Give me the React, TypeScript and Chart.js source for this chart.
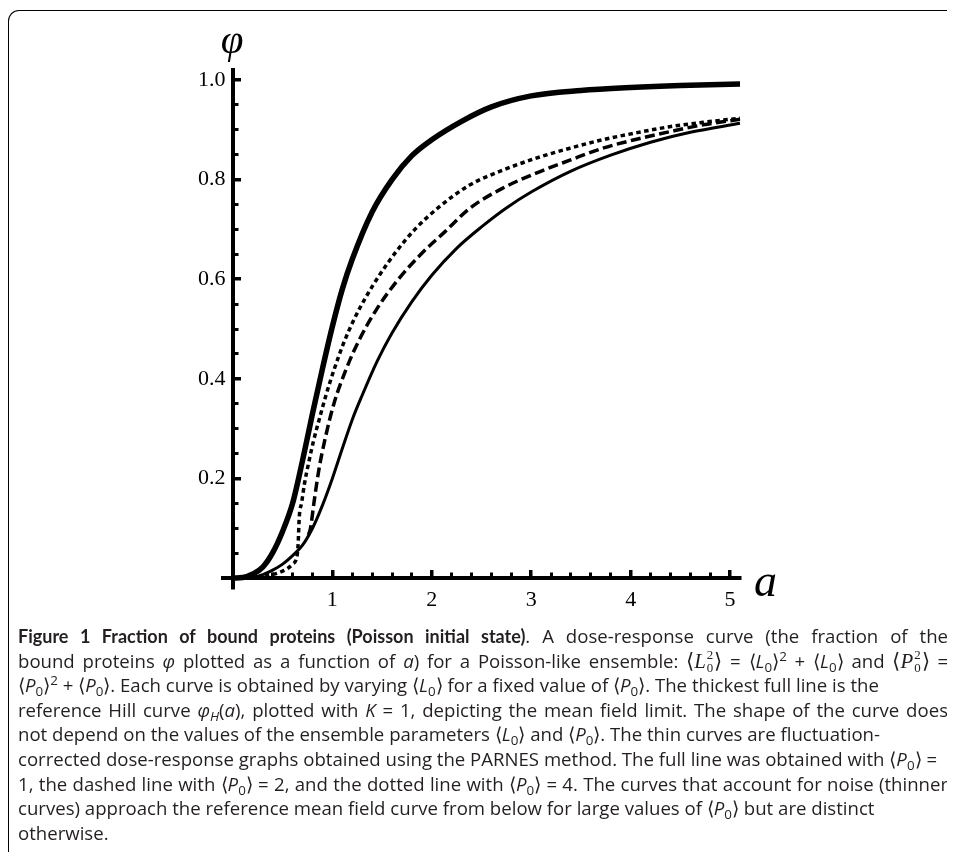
import React, { useEffect, useRef } from "react";
import { Chart, registerables } from "chart.js";

Chart.register(...registerables);

// ---- data ----
// thickest full line: reference Hill curve
const HILL_A = [0, 0.1, 0.2, 0.3, 0.4, 0.5, 0.6, 0.7, 0.8, 0.9, 1.0, 1.1, 1.2, 1.4, 1.6, 1.8, 2.0, 2.3, 2.6, 3.0, 3.5, 4.0, 4.5, 5.1];
const HILL_PHI = [0, 0.001, 0.008, 0.022, 0.051, 0.094, 0.15, 0.236, 0.33, 0.42, 0.505, 0.58, 0.64, 0.735, 0.8, 0.848, 0.88, 0.917, 0.946, 0.968, 0.979, 0.985, 0.989, 0.992];

// thin full line: <P0> = 1
const FULL_A = [0, 0.1, 0.2, 0.3, 0.4, 0.5, 0.6, 0.7, 0.8, 0.9, 1.0, 1.1, 1.2, 1.3, 1.45, 1.6, 1.8, 2.0, 2.25, 2.5, 2.75, 3.0, 3.4, 3.8, 4.2, 4.6, 5.1];
const FULL_PHI = [0, 0.0005, 0.002, 0.007, 0.016, 0.028, 0.045, 0.066, 0.1, 0.146, 0.2, 0.26, 0.318, 0.367, 0.435, 0.492, 0.555, 0.608, 0.662, 0.705, 0.743, 0.775, 0.817, 0.849, 0.875, 0.895, 0.913];

// dashed line: <P0> = 2
const DASHED_A = [0.76, 0.78, 0.814, 0.864, 0.932, 1.017, 1.136, 1.27, 1.44, 1.66, 1.9, 2.136, 2.38, 2.716, 3.05, 3.39, 3.72, 4.06, 4.39, 4.73, 5.1];
const DASHED_PHI = [0.087, 0.1, 0.15, 0.217, 0.284, 0.351, 0.418, 0.478, 0.538, 0.599, 0.652, 0.696, 0.742, 0.783, 0.813, 0.839, 0.863, 0.881, 0.896, 0.91, 0.921];

// dotted line: <P0> = 4
const DOTTED_A = [0, 0.2, 0.35, 0.5, 0.6, 0.645, 0.655, 0.668, 0.69, 0.72, 0.76, 0.81, 0.87, 0.94, 1.02, 1.11, 1.22, 1.34, 1.48, 1.64, 1.83, 2.068, 2.38, 2.716, 3.05, 3.39, 3.72, 4.06, 4.39, 4.73, 5.1];
const DOTTED_PHI = [0, 0.001, 0.005, 0.014, 0.028, 0.045, 0.066, 0.125, 0.15, 0.19, 0.23, 0.275, 0.32, 0.37, 0.42, 0.47, 0.52, 0.565, 0.61, 0.655, 0.7, 0.744, 0.789, 0.819, 0.843, 0.863, 0.88, 0.894, 0.906, 0.915, 0.923];

// axes
const X_MIN = -0.1;
const X_MAX = 5.1;
const Y_MIN = -0.02;
const Y_MAX = 1.02;
const X_MAJOR_TICKS = [1, 2, 3, 4, 5];
const X_TICK_LABELS = ["1", "2", "3", "4", "5"];
const X_MINOR_TICKS = [0.2, 0.4, 0.6, 0.8, 1.2, 1.4, 1.6, 1.8, 2.2, 2.4, 2.6, 2.8, 3.2, 3.4, 3.6, 3.8, 4.2, 4.4, 4.6, 4.8];
const Y_MAJOR_TICKS = [0.2, 0.4, 0.6, 0.8, 1.0];
const Y_TICK_LABELS = ["0.2", "0.4", "0.6", "0.8", "1.0"];
const Y_MINOR_TICKS = [0.05, 0.1, 0.15, 0.25, 0.3, 0.35, 0.45, 0.5, 0.55, 0.65, 0.7, 0.75, 0.85, 0.9, 0.95];

const X_TITLE = "a";
const Y_TITLE = "\u03c6";

const pts = (xs: number[], ys: number[]) => xs.map((x, i) => ({ x, y: ys[i] }));

const TICK_FONT = { family: '"Liberation Serif", "Times New Roman", serif', size: 22 };

function ChartCanvas() {
  const ref = useRef<HTMLCanvasElement | null>(null);
  useEffect(() => {
    if (!ref.current) return;
    const line = (data: { x: number; y: number }[], width: number, dash: number[]) => ({
      data,
      showLine: true,
      borderColor: "#000",
      backgroundColor: "#000",
      borderWidth: width,
      borderDash: dash,
      borderCapStyle: "butt" as const,
      pointRadius: 0,
      pointHoverRadius: 0,
      cubicInterpolationMode: "monotone" as const,
      fill: false,
      clip: 8,
    });
    const chart = new Chart(ref.current, {
      type: "scatter",
      data: {
        datasets: [
          line(pts(HILL_A, HILL_PHI), 5.5, []),
          line(pts(FULL_A, FULL_PHI), 3, []),
          line(pts(DASHED_A, DASHED_PHI), 3.5, [10, 4.5]),
          line(pts(DOTTED_A, DOTTED_PHI), 3.5, [4.5, 3.5]),
        ] as any,
      },
      options: {
        animation: false,
        responsive: false,
        events: [],
        layout: { padding: { left: 215, right: 214, top: 62, bottom: 40 } },
        plugins: { legend: { display: false }, tooltip: { enabled: false }, title: { display: false } },
        scales: {
          x: {
            type: "linear",
            axis: "x",
            position: { y: 0 } as any,
            min: X_MIN,
            max: X_MAX,
            afterBuildTicks: (s: any) => {
              s.ticks = X_MAJOR_TICKS.map((v) => ({ value: v }));
            },
            ticks: {
              callback: (v: any) => X_TICK_LABELS[X_MAJOR_TICKS.indexOf(Number(v))],
              font: TICK_FONT,
              color: "#000",
              padding: 19,
              autoSkip: false,
              maxRotation: 0,
              minRotation: 0,
            },
            grid: { display: true, drawOnChartArea: false, drawTicks: true, tickLength: -10, tickWidth: 3.5, tickColor: "#000", color: "#000", lineWidth: 3.5 },
            border: { display: true, color: "#000", width: 4 },
          },
          xMinor: {
            type: "linear",
            axis: "x",
            position: { y: 0 } as any,
            min: X_MIN,
            max: X_MAX,
            afterBuildTicks: (s: any) => {
              s.ticks = X_MINOR_TICKS.map((v) => ({ value: v }));
            },
            ticks: { display: false, autoSkip: false },
            grid: { display: true, drawOnChartArea: false, drawTicks: true, tickLength: -5.5, tickWidth: 3, tickColor: "#000", color: "#000", lineWidth: 3 },
            border: { display: false },
          },
          y: {
            type: "linear",
            axis: "y",
            position: { x: 0 } as any,
            min: Y_MIN,
            max: Y_MAX,
            afterBuildTicks: (s: any) => {
              s.ticks = Y_MAJOR_TICKS.map((v) => ({ value: v }));
            },
            ticks: {
              callback: (v: any) => Y_TICK_LABELS[Y_MAJOR_TICKS.indexOf(Number(v))] + "\u2004",
              font: TICK_FONT,
              color: "#000",
              padding: 0,
              autoSkip: false,
            },
            grid: { display: true, drawOnChartArea: false, drawTicks: true, tickLength: -10, tickWidth: 3.5, tickColor: "#000", color: "#000", lineWidth: 3.5 },
            border: { display: true, color: "#000", width: 4 },
          },
          yMinor: {
            type: "linear",
            axis: "y",
            position: { x: 0 } as any,
            min: Y_MIN,
            max: Y_MAX,
            afterBuildTicks: (s: any) => {
              s.ticks = Y_MINOR_TICKS.map((v) => ({ value: v }));
            },
            ticks: { display: false, autoSkip: false },
            grid: { display: true, drawOnChartArea: false, drawTicks: true, tickLength: -5.5, tickWidth: 3, tickColor: "#000", color: "#000", lineWidth: 3 },
            border: { display: false },
          },
        } as any,
      },
    });
    return () => chart.destroy();
  }, []);
  return <canvas ref={ref} width={946} height={620} style={{ position: "absolute", left: 0, top: 0, width: 946, height: 620, display: "block" }} />;
}

const serif = '"Liberation Serif", "Times New Roman", serif';

const Sub = ({ c, it }: { c: string; it?: boolean }) => (
  <span style={{ fontSize: "0.72em", verticalAlign: "-0.28em", lineHeight: 0, fontStyle: it ? "italic" : "normal" }}>{c}</span>
);
const Sup = ({ c }: { c: string }) => (
  <span style={{ fontSize: "0.72em", verticalAlign: "0.55em", lineHeight: 0 }}>{c}</span>
);
const Avg = ({ v }: { v: string }) => (
  <span>
    {"\u27e8"}
    <i>{v}</i>
    <Sub c="0" />
    {"\u27e9"}
  </span>
);
const MathSq = ({ v }: { v: string }) => (
  <span style={{ fontFamily: serif, fontSize: "1.12em" }}>
    {"\u27e8"}
    <i>{v}</i>
    <span
      style={{
        display: "inline-flex",
        flexDirection: "column",
        fontSize: "0.62em",
        lineHeight: 1,
        verticalAlign: "0.72em",
        textAlign: "left",
        margin: "0 1px",
      }}
    >
      <span>2</span>
      <span>0</span>
    </span>
    {"\u27e9"}
  </span>
);

function Line({ children, justify }: { children: React.ReactNode; justify?: boolean }) {
  return (
    <div
      style={{
        whiteSpace: justify ? "normal" : "nowrap",
        textAlign: justify ? "justify" : "left",
        textAlignLast: justify ? "justify" : "auto",
        height: 24.6,
      } as any}
    >
      {children}
    </div>
  );
}

export default function App() {
  return (
    <div style={{ position: "relative", width: 946, height: 845, overflow: "hidden", background: "#fff" }}>
      <div
        style={{
          position: "absolute",
          left: 0,
          top: 2,
          width: 1000,
          height: 842,
          borderTop: "1px solid #000",
          borderLeft: "1px solid #000",
          borderTopLeftRadius: 11,
          boxSizing: "border-box",
        }}
      />
      <ChartCanvas />
      <div
        style={{
          position: "absolute",
          left: 194,
          top: 11,
          width: 60,
          textAlign: "center",
          fontFamily: serif,
          fontStyle: "italic",
          fontSize: 41,
          lineHeight: "40px",
          color: "#000",
        }}
      >
        {Y_TITLE}
      </div>
      <div
        style={{
          position: "absolute",
          left: 746,
          top: 550,
          fontFamily: serif,
          fontStyle: "italic",
          fontSize: 46,
          lineHeight: "46px",
          color: "#000",
        }}
      >
        {X_TITLE}
      </div>
      <div
        style={{
          position: "absolute",
          left: 10,
          top: 616,
          width: 930,
          fontFamily: '"Open Sans", "Noto Sans", sans-serif',
          fontSize: 18.6,
          lineHeight: "24.6px",
          color: "#231f20",
        }}
      >
        <Line justify>
          <b style={{ fontFamily: 'Lato, "Open Sans", sans-serif', fontSize: 18 }}>Figure 1 Fraction of bound proteins (Poisson initial state)</b>. A dose-response curve (the fraction of the
        </Line>
        <Line justify>
          bound proteins <i>{"\u03c6"}</i> plotted as a function of <i>a</i>) for a Poisson-like ensemble: <MathSq v="L" /> = <Avg v="L" />
          <Sup c="2" /> + <Avg v="L" /> and <MathSq v="P" /> =
        </Line>
        <Line>
          <Avg v="P" />
          <Sup c="2" /> + <Avg v="P" />. Each curve is obtained by varying <Avg v="L" /> for a fixed value of <Avg v="P" />. The thickest full line is the
        </Line>
        <Line justify>
          reference Hill curve <i>{"\u03c6"}</i>
          <Sub c="H" it />
          (<i>a</i>), plotted with <i>K</i> = 1, depicting the mean field limit. The shape of the curve does
        </Line>
        <Line>
          not depend on the values of the ensemble parameters <Avg v="L" /> and <Avg v="P" />. The thin curves are fluctuation-
        </Line>
        <Line>
          corrected dose-response graphs obtained using the PARNES method. The full line was obtained with <Avg v="P" /> =
        </Line>
        <Line justify>
          1, the dashed line with <Avg v="P" /> = 2, and the dotted line with <Avg v="P" /> = 4. The curves that account for noise (thinner
        </Line>
        <Line>
          curves) approach the reference mean field curve from below for large values of <Avg v="P" /> but are distinct
        </Line>
        <Line>otherwise.</Line>
      </div>
    </div>
  );
}
